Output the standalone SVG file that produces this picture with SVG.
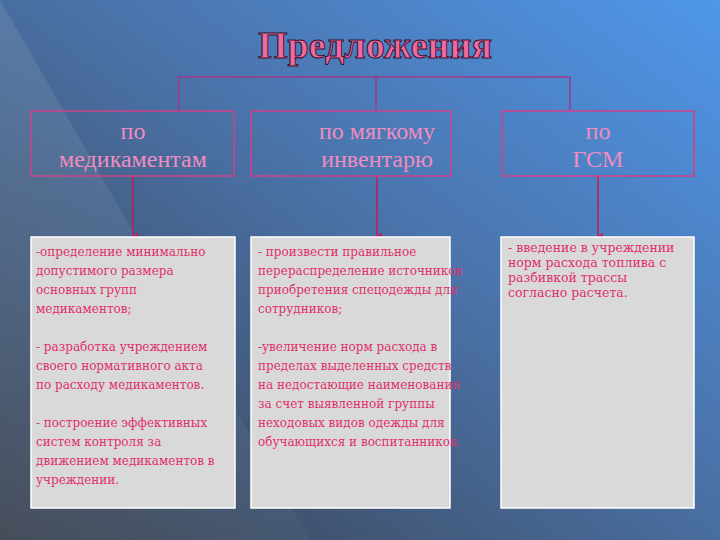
<svg xmlns="http://www.w3.org/2000/svg" width="720" height="540" viewBox="0 0 720 540">
<defs>
<linearGradient id="bg" x1="1" y1="0" x2="0" y2="1">
<stop offset="0" stop-color="#4f97ea"/>
<stop offset="0.45" stop-color="#4a72a8"/>
<stop offset="1" stop-color="#3a3f4a"/>
</linearGradient>
<linearGradient id="tri" x1="0" y1="0" x2="1" y2="1">
<stop offset="0" stop-color="#9ab0c8" stop-opacity="0.35"/>
<stop offset="1" stop-color="#8090a0" stop-opacity="0.15"/>
</linearGradient>
<marker id="ar" markerWidth="6" markerHeight="6" refX="3" refY="5" orient="auto" markerUnits="userSpaceOnUse"><path d="M0,0 L3,5 L6,0 Z" fill="#c2185b"/></marker>
<style>
.hb{fill:none;stroke:#d0408a;stroke-width:1.5}
.ht{font-family:"Liberation Serif",serif;font-size:24px;fill:#f08cc0;text-anchor:middle}
.bb{fill:#d9d9d9;stroke:#ffffff;stroke-width:1.5}
.bt{font-family:"DejaVu Serif",serif;font-size:12px;fill:#e0306a}
.sm{font-size:12.5px}
.cn{stroke:#c2185b;stroke-width:1.5;fill:none}
.tl{stroke:#a03a8a;stroke-width:1.5;fill:none}
</style>
</defs>
<rect width="720" height="540" fill="url(#bg)"/>
<polygon points="0,0 0,540 310,540" fill="url(#tri)" opacity="0.6"/>
<g id="title"><text x="375" y="58" font-family="Liberation Serif,serif" font-size="38" font-weight="bold" fill="#f06a9c" stroke="#3a1030" stroke-width="1" text-anchor="middle">Предложения</text></g>
<g id="connectors">
<path class="tl" d="M179,110 V77 H570 V110 M376,77 V110"/>
<path class="cn" d="M133,176 V236" marker-end="url(#ar)"/>
<path class="cn" d="M377,176 V236" marker-end="url(#ar)"/>
<path class="cn" d="M598,176 V236" marker-end="url(#ar)"/>
</g>
<g id="h1"><rect class="hb" x="31" y="111" width="203" height="65"/><text class="ht" x="133" y="139">по</text><text class="ht" x="133" y="167">медикаментам</text></g>
<g id="h2"><rect class="hb" x="251" y="111" width="200" height="65"/><text class="ht" x="377" y="139">по мягкому</text><text class="ht" x="377" y="167">инвентарю</text></g>
<g id="h3"><rect class="hb" x="502" y="111" width="192" height="65"/><text class="ht" x="598" y="139">по</text><text class="ht" x="598" y="167">ГСМ</text></g>
<g id="b1"><rect class="bb" x="31" y="237" width="204" height="271"/>
<text class="bt" x="36" y="256">-определение минимально</text>
<text class="bt" x="36" y="275">допустимого размера</text>
<text class="bt" x="36" y="294">основных групп</text>
<text class="bt" x="36" y="313">медикаментов;</text>
<text class="bt" x="36" y="351">- разработка учреждением</text>
<text class="bt" x="36" y="370">своего нормативного акта</text>
<text class="bt" x="36" y="389">по расходу медикаментов.</text>
<text class="bt" x="36" y="427">- построение эффективных</text>
<text class="bt" x="36" y="446">систем контроля за</text>
<text class="bt" x="36" y="465">движением медикаментов в</text>
<text class="bt" x="36" y="484">учреждении.</text>
</g>
<g id="b2"><rect class="bb" x="251" y="237" width="199" height="271"/>
<text class="bt" x="258" y="256">- произвести правильное</text>
<text class="bt" x="258" y="275">перераспределение источников</text>
<text class="bt" x="258" y="294">приобретения спецодежды для</text>
<text class="bt" x="258" y="313">сотрудников;</text>
<text class="bt" x="258" y="351">-увеличение норм расхода в</text>
<text class="bt" x="258" y="370">пределах выделенных средств</text>
<text class="bt" x="258" y="389">на недостающие наименования</text>
<text class="bt" x="258" y="408">за счет выявленной группы</text>
<text class="bt" x="258" y="427">неходовых видов одежды для</text>
<text class="bt" x="258" y="446">обучающихся и воспитанников.</text>
</g>
<g id="b3"><rect class="bb" x="501" y="237" width="193" height="271"/>
<text class="bt sm" x="508" y="252">- введение в учреждении</text>
<text class="bt sm" x="508" y="267">норм расхода топлива с</text>
<text class="bt sm" x="508" y="282">разбивкой трассы</text>
<text class="bt sm" x="508" y="297">согласно расчета.</text>
</g>
</svg>
